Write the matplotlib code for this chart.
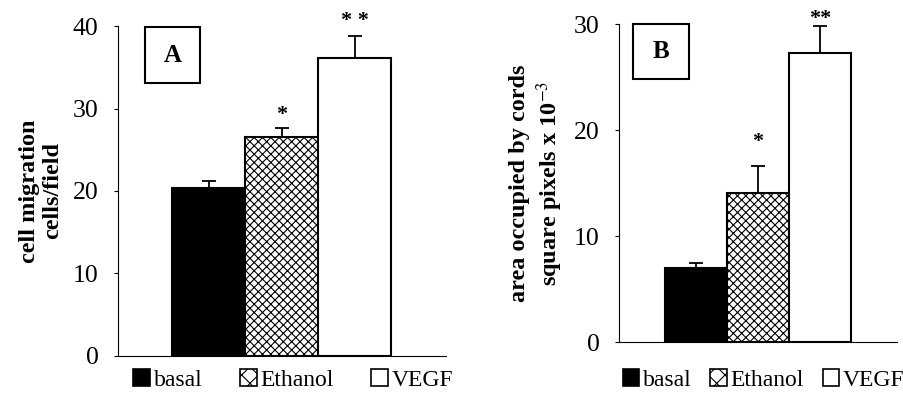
import matplotlib
matplotlib.use("Agg")
import matplotlib.pyplot as plt
from matplotlib.patches import Rectangle, Patch

plt.rcParams['font.family'] = ['Liberation Serif', 'DejaVu Serif']
plt.rcParams['mathtext.fontset'] = 'stix'
plt.rcParams['hatch.linewidth'] = 0.8

groups = ['basal', 'Ethanol', 'VEGF']
migration = [20.4, 26.5, 36.1]
migration_err = [0.8, 1.1, 2.7]
cord_area = [7.0, 14.1, 27.3]
cord_area_err = [0.5, 2.5, 2.5]
stars_a = ['', '*', '* *']
stars_b = ['', '*', '**']

colors = ['black', 'white', 'white']
hatches = ['', 'xxxx', '']

fig = plt.figure(figsize=(9.04, 3.97), dpi=100)
ax1 = fig.add_axes([0.1305, 0.1033, 0.3629, 0.8312])
ax2 = fig.add_axes([0.6847, 0.1385, 0.3076, 0.801])


def draw_panel(ax, vals, errs, stars, ylim, yticks, xlim, letter, box, ylabel,
               star_offs, legend_anchor, labelpad, linesp, colsp):
    x = range(len(vals))
    ax.bar(x, vals, width=1.0, color=colors, hatch=hatches,
           edgecolor='black', linewidth=1.5, zorder=2)
    ax.errorbar(x, vals, yerr=[[0] * len(errs), errs], fmt='none',
                ecolor='black', elinewidth=1.3, capsize=5, capthick=1.3, zorder=3)
    for xi, v, e, s, off in zip(x, vals, errs, stars, star_offs):
        if s:
            ax.text(xi, v + e + off, s, ha='center', va='bottom',
                    fontsize=16, fontweight='bold')
    ax.set_ylim(*ylim)
    ax.set_yticks(yticks)
    ax.set_xlim(*xlim)
    ax.set_xticks([])
    ax.spines['top'].set_visible(False)
    ax.spines['right'].set_visible(False)
    ax.spines['left'].set_linewidth(0.8)
    ax.spines['bottom'].set_linewidth(0.8)
    ax.tick_params(axis='y', labelsize=18.5, length=3, width=0.8, direction='out', pad=11)
    ax.set_ylabel(ylabel, fontsize=17.5, fontweight='bold', linespacing=linesp,
                  labelpad=labelpad)

    # panel letter box
    ax.add_patch(Rectangle((box[0], box[1]), box[2], box[3], transform=ax.transAxes,
                           facecolor='white', edgecolor='black', linewidth=1.5,
                           clip_on=False, zorder=4))
    ax.text(box[0] + box[2] / 2, box[1] + box[3] / 2, letter, transform=ax.transAxes,
            ha='center', va='center', fontsize=18, fontweight='bold', zorder=5)

    handles = [Patch(facecolor=c, edgecolor='black', hatch=h[:2], linewidth=1.2)
               for c, h in zip(colors, hatches)]
    ax.legend(handles, groups, loc='center', bbox_to_anchor=legend_anchor,
              ncol=3, frameon=False, fontsize=17, handlelength=0.7, handleheight=0.7,
              handletextpad=0.15, columnspacing=colsp, borderaxespad=0, borderpad=0)


draw_panel(ax1, migration, migration_err, stars_a, (0, 40), [0, 10, 20, 30, 40],
           (-1.24, 3.25), 'A', (0.082, 0.827, 0.168, 0.17),
           'cell migration\ncells/field', [0, 0.4, 0.6], (0.534, -0.0725), 7, 1.15, 1.6)

draw_panel(ax2, cord_area, cord_area_err, stars_b, (0, 30), [0, 10, 20, 30],
           (-1.24, 3.24), 'B', (0.05, 0.827, 0.202, 0.173),
           'area occupied by cords\nsquare pixels x 10$^{-3}$', [0, 1.3, -0.3],
           (0.52, -0.119), 6, 1.2, 0.8)

fig.savefig('out.png', dpi=100)
